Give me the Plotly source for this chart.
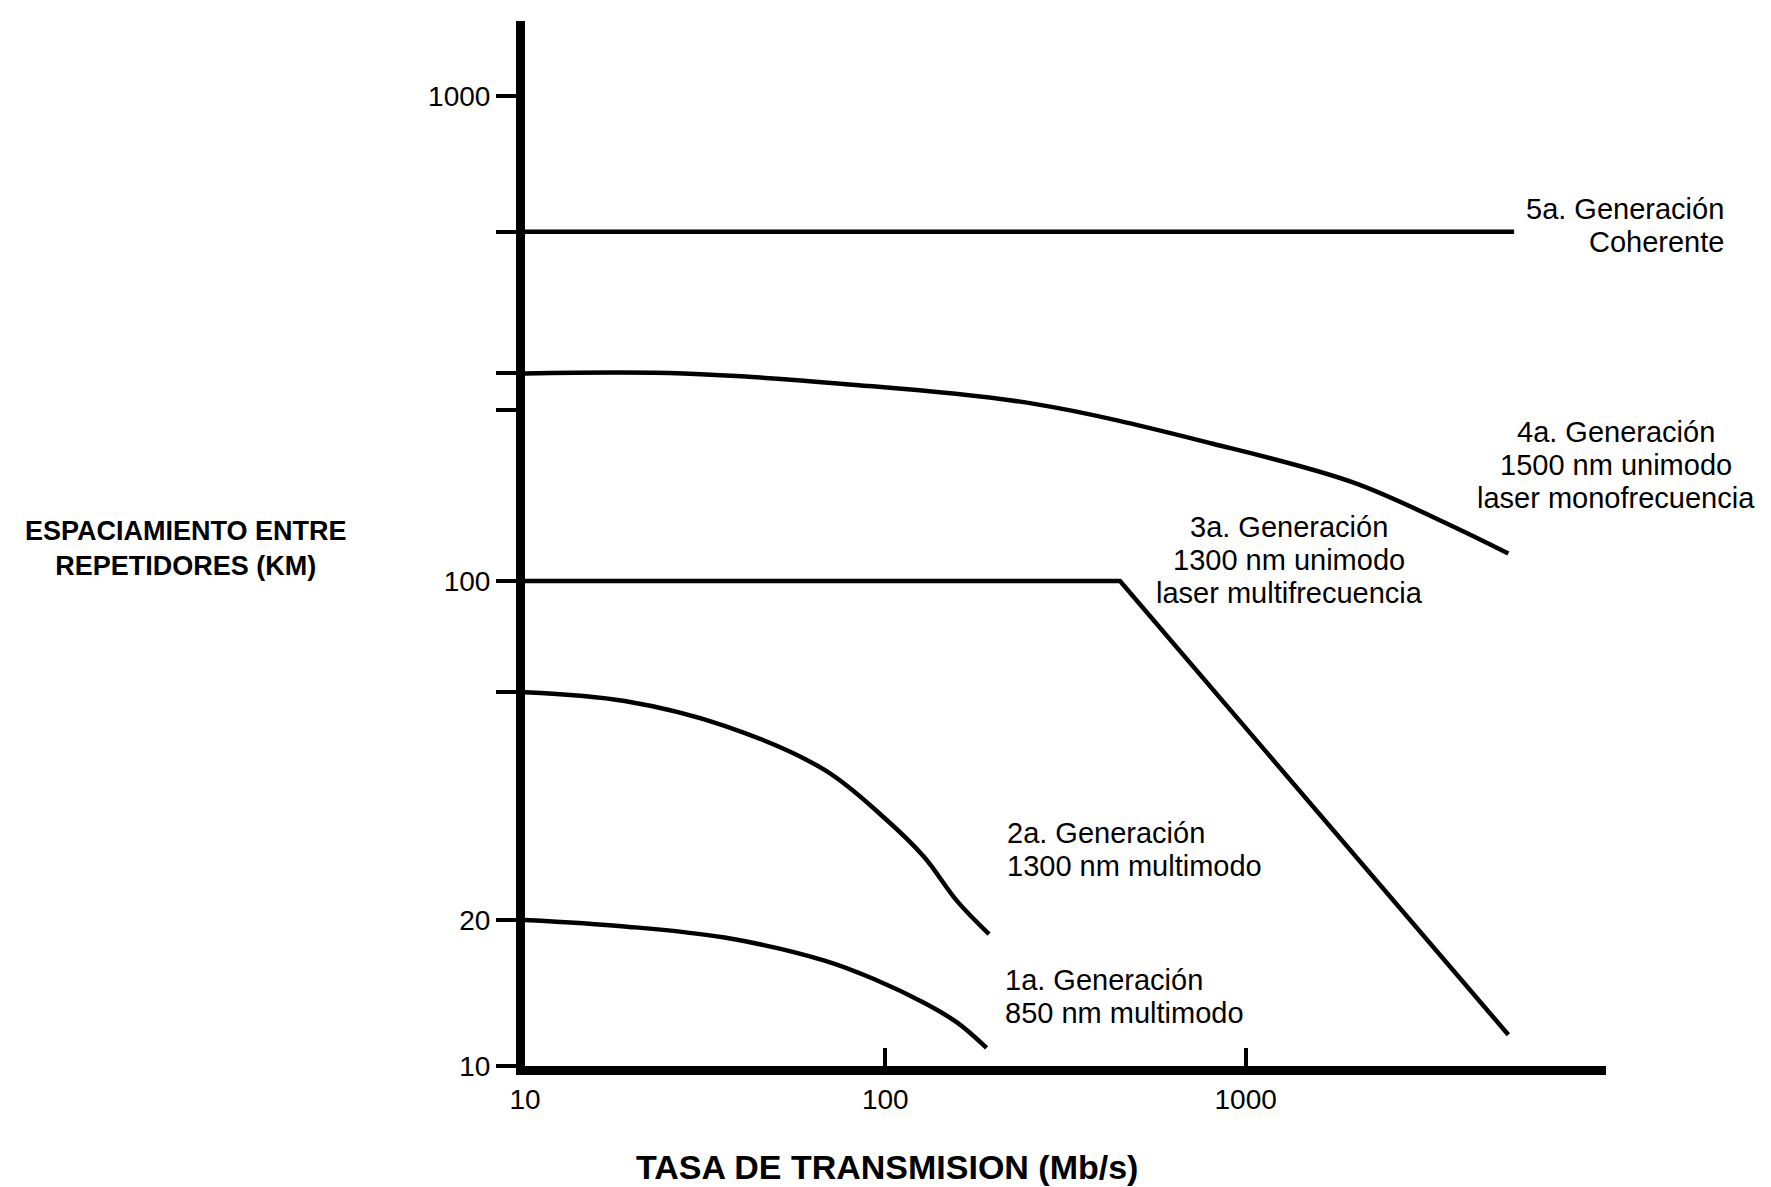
import plotly.graph_objects as go

# Datos (tasa en Mb/s, espaciamiento en km)
gen1_tasa = [10, 18.9, 35.8, 67.8, 93.3, 128, 158, 191]
gen1_km = [20, 19.4, 18.4, 16.5, 15.1, 13.5, 12.3, 10.9]

gen2_tasa = [10, 18.9, 35.8, 67.8, 99.3, 128, 158, 194]
gen2_km = [59, 56.6, 50.3, 40.8, 32.5, 27.0, 21.9, 18.7]

gen3_tasa = [10, 448, 5357]
gen3_km = [100, 100, 11.6]

gen4_tasa = [10, 27.5, 76.6, 259, 811, 1977, 3648, 5357]
gen4_km = [268, 268, 255, 232, 192, 160, 131, 114]

gen5_tasa = [10, 5560]
gen5_km = [525, 525]

# marcas del eje vertical (solo algunas con etiqueta)
y_marcas = [10, 20, 59, 100, 225, 268, 525, 1000]
y_etiquetas = ["10", "20", "", "100", "", "", "", "1000"]
x_marcas = [10, 100, 1000]
x_etiquetas = ["10", "100", "1000"]

# textos de cada generacion: lineas, x (paper), y de la primera linea (paper), anclaje
etiquetas = [
    (["5a. Generación", "Coherente"], 1.111, 0.820, "right"),
    (["4a. Generación", "1500 nm unimodo", "laser monofrecuencia"], 1.009, 0.607, "center"),
    (["3a. Generación", "1300 nm unimodo", "laser multifrecuencia"], 0.707, 0.516, "center"),
    (["2a. Generación", "1300 nm multimodo"], 0.444, 0.223, "left"),
    (["1a. Generación", "850 nm multimodo"], 0.442, 0.082, "left"),
]
PASO = 0.0316  # separacion entre lineas de texto

FUENTE = "Liberation Sans, Arial, Helvetica, sans-serif"

fig = go.Figure()
series = [(gen1_tasa, gen1_km, "spline"), (gen2_tasa, gen2_km, "spline"),
          (gen3_tasa, gen3_km, "linear"), (gen4_tasa, gen4_km, "spline"),
          (gen5_tasa, gen5_km, "linear")]
for xs, ys, forma in series:
    fig.add_trace(go.Scatter(
        x=xs, y=ys, mode="lines",
        line=dict(color="black", width=4.5, shape=forma, smoothing=1.0),
        showlegend=False, hoverinfo="x+y",
    ))

for lineas, xp, yp, anc in etiquetas:
    for i, linea in enumerate(lineas):
        fig.add_annotation(
            text=linea, xref="paper", yref="paper", x=xp, y=yp - i * PASO,
            xanchor=anc, yanchor="middle", align=anc, showarrow=False,
            font=dict(family=FUENTE, size=29, color="black"),
        )

fig.add_annotation(
    text="<b>ESPACIAMIENTO ENTRE<br>REPETIDORES (KM)</b>",
    xref="paper", yref="paper", x=-0.3136, y=0.495,
    xanchor="center", yanchor="middle", align="center", showarrow=False,
    font=dict(family=FUENTE, size=27, color="black"),
)
fig.add_annotation(
    text="<b>TASA DE TRANSMISION (Mb/s)</b>",
    xref="paper", yref="paper", x=0.335, y=-0.097,
    xanchor="center", yanchor="middle", showarrow=False,
    font=dict(family=FUENTE, size=34, color="black"),
)

fig.update_xaxes(
    type="log", range=[1, 4],
    tickvals=x_marcas, ticktext=x_etiquetas,
    ticks="inside", ticklen=18, tickwidth=4, tickcolor="black",
    showline=True, linecolor="black", linewidth=9,
    showgrid=False, zeroline=False,
    tickfont=dict(family=FUENTE, size=28, color="black"),
)
fig.update_yaxes(
    type="log", range=[1, 3.155],
    tickvals=y_marcas, ticktext=y_etiquetas,
    ticks="outside", ticklen=20, tickwidth=4, tickcolor="black",
    showline=True, linecolor="black", linewidth=9,
    showgrid=False, zeroline=False,
    tickfont=dict(family=FUENTE, size=28, color="black"),
)

fig.update_layout(
    width=1771, height=1187,
    margin=dict(l=517, r=173, t=13, b=129),
    paper_bgcolor="white", plot_bgcolor="white",
    font=dict(family=FUENTE, color="black"),
)

fig.write_html("out.html")
